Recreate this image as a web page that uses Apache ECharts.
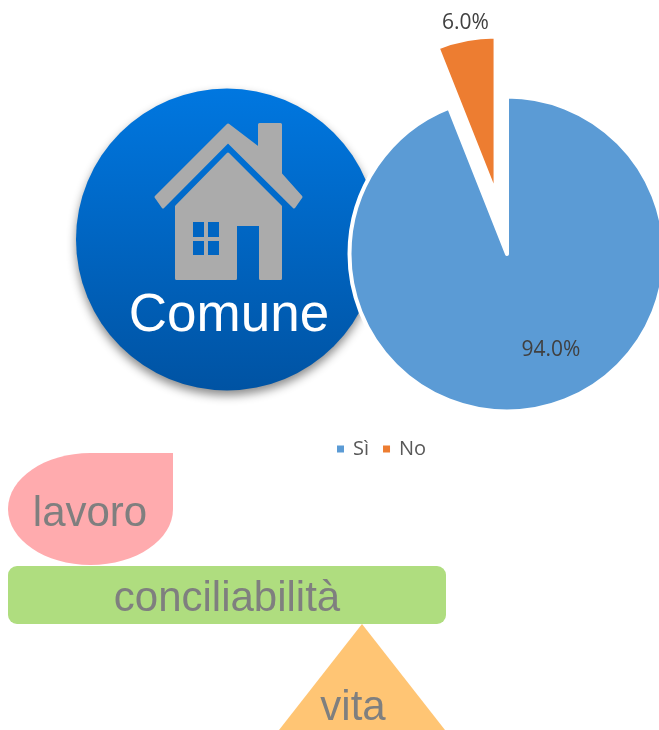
<!DOCTYPE html>
<html>
<head>
<meta charset="utf-8">
<style>
html,body{margin:0;padding:0;background:#fff;}
#main{width:659px;height:730px;}
</style>
<script src="https://cdn.jsdelivr.net/npm/echarts@6/dist/echarts.min.js"></script>
</head>
<body>
<div id="main"></div>
<script>
const categories = ['Sì', 'No'];
const values = [94.0, 6.0];
const colors = ['#5B9BD5', '#ED7D31'];

const chart = echarts.init(document.getElementById('main'));
const grey = '#7F7F7F';
const arial = '"Liberation Sans", Arial, sans-serif';
const houseStyle = { fill: '#ABABAB', stroke: '#ABABAB', lineWidth: 3, lineJoin: 'round' };

let option = {
    animation: false,
    backgroundColor: '#fff',
    legend: {
        data: categories,
        left: 330,
        top: 434,
        icon: 'rect',
        itemWidth: 9,
        itemHeight: 9,
        itemGap: 12,
        textStyle: { fontFamily: 'Open Sans', fontSize: 20, color: '#595959', padding: [0, 0, 0, 3] }
    },
    series: [{
        type: 'pie',
        z: 5,
        center: [507, 254],
        radius: 157.5,
        startAngle: 90,
        clockwise: true,
        avoidLabelOverlap: false,
        selectedMode: 'multiple',
        selectedOffset: 61,
        data: categories.map((name, i) => ({
            name: name,
            value: values[i],
            selected: name === 'No',
            itemStyle: { color: colors[i] },
            // etichetta del No sopra la fetta staccata
            label: { position: name === 'No' ? 'outside' : 'inside' },
            labelLine: { show: false, length: 17, length2: -31 }
        })),
        itemStyle: { borderColor: '#fff', borderWidth: 4 },
        emphasis: { disabled: true },
        label: {
            show: true,
            fontFamily: 'Open Sans',
            fontSize: 21,
            color: '#404040',
            formatter: p => p.value.toFixed(1) + '%'
        },
        labelLayout: p => p.dataIndex === 0 ? { x: 551, y: 350, align: 'center', verticalAlign: 'middle' } : {}
    }],
    graphic: [
        // cerchio Comune
        {
            type: 'circle', z: 1,
            shape: { cx: 227, cy: 239.5, r: 151 },
            style: {
                fill: new echarts.graphic.LinearGradient(0, 0, 0, 1, [
                    { offset: 0, color: '#0077E0' },
                    { offset: 1, color: '#0053A3' }
                ]),
                shadowBlur: 10, shadowOffsetY: 5, shadowColor: 'rgba(0,0,0,0.45)'
            }
        },
        {
            type: 'polygon', z: 2,
            shape: { points: [[156, 197], [228, 125], [259.5, 149], [259.5, 124.5], [280.5, 124.5], [280.5, 174], [301, 197], [294, 207], [228, 141.5], [163, 207]] },
            style: houseStyle
        },
        {
            type: 'polygon', z: 2,
            shape: { points: [[228, 154], [280.5, 206.5], [280.5, 278.5], [260.5, 278.5], [260.5, 224.5], [235.5, 224.5], [235.5, 278.5], [176.5, 278.5], [176.5, 206.5]] },
            style: houseStyle
        },
        { type: 'rect', z: 3, shape: { x: 193, y: 222, width: 11, height: 15 }, style: { fill: '#0065C2' } },
        { type: 'rect', z: 3, shape: { x: 208, y: 222, width: 11, height: 15 }, style: { fill: '#0065C2' } },
        { type: 'rect', z: 3, shape: { x: 193, y: 241, width: 11, height: 14 }, style: { fill: '#0065C2' } },
        { type: 'rect', z: 3, shape: { x: 208, y: 241, width: 11, height: 14 }, style: { fill: '#0065C2' } },
        {
            type: 'text', z: 4, x: 229, y: 316,
            style: { text: 'Comune', fill: '#fff', font: '53px ' + arial, align: 'center', verticalAlign: 'middle' }
        },
        // bilancia
        {
            type: 'ellipse', z: 1,
            shape: { cx: 90.5, cy: 509, rx: 82.5, ry: 56 },
            style: { fill: '#FFABAE' }
        },
        {
            type: 'rect', z: 1,
            shape: { x: 90.5, y: 453, width: 82.5, height: 56 },
            style: { fill: '#FFABAE' }
        },
        {
            type: 'text', z: 2, x: 90, y: 514,
            style: { text: 'lavoro', fill: grey, font: '42px ' + arial, align: 'center', verticalAlign: 'middle' }
        },
        {
            type: 'rect', z: 1,
            shape: { x: 8, y: 566, width: 438, height: 58, r: 9 },
            style: { fill: '#AFDD7F' }
        },
        {
            type: 'text', z: 2, x: 227, y: 599,
            style: { text: 'conciliabilità', fill: grey, font: '42px ' + arial, align: 'center', verticalAlign: 'middle' }
        },
        {
            type: 'polygon', z: 1,
            shape: { points: [[362, 624], [445, 730], [279, 730]] },
            style: { fill: '#FFC574' }
        },
        {
            type: 'text', z: 2, x: 353, y: 708,
            style: { text: 'vita', fill: grey, font: '42px ' + arial, align: 'center', verticalAlign: 'middle' }
        }
    ]
};
chart.setOption(option);
</script>
</body>
</html>
